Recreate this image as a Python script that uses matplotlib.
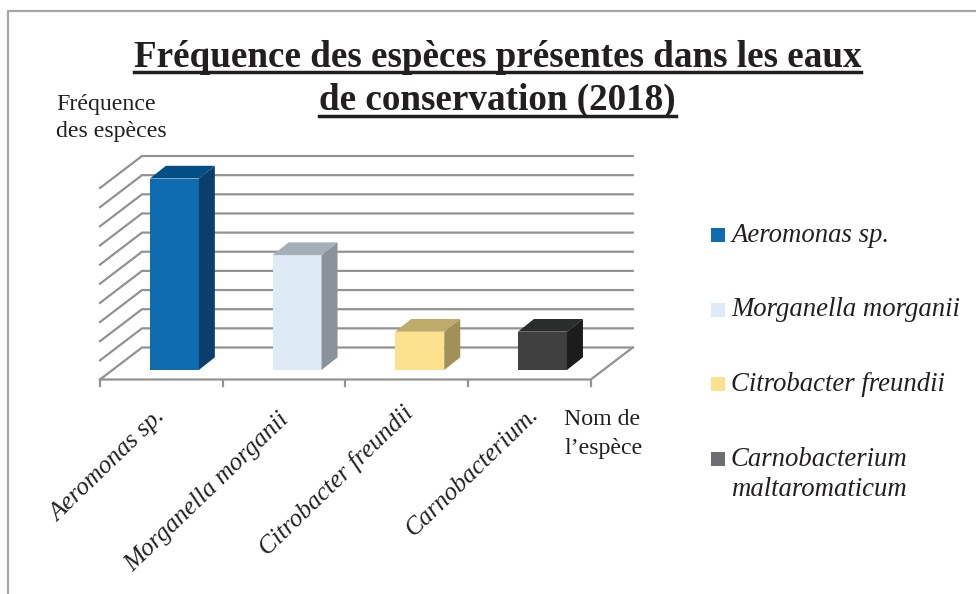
import matplotlib
matplotlib.use('Agg')
import matplotlib.pyplot as plt
from matplotlib.lines import Line2D
from matplotlib.patches import Rectangle

plt.rcParams['font.family'] = ['Liberation Serif', 'DejaVu Serif']

W, H = 976, 594

# (gridlines are one unit apart, no numbers printed)
especes = ['Aeromonas sp.', 'Morganella morganii', 'Citrobacter freundii', 'Carnobacterium.']
valeurs = [10, 6, 2, 2]
legende = ['Aeromonas sp.', 'Morganella morganii', 'Citrobacter freundii', 'Carnobacterium\nmaltaromaticum']
titre = ['Fréquence des espèces présentes dans les eaux', 'de conservation (2018)']

c_face = ['#0f6cb0', '#deeaf6', '#fde28d', '#404040']
c_top = ['#034f85', '#a5afb8', '#bfab6a', '#2b2d2d']
c_side = ['#0a3f6b', '#8a929b', '#a19159', '#1c1c1c']
c_leg = ['#0f6cb0', '#deeaf6', '#fde28d', '#6d6e71']
grille = '#929292'
encre = '#231f20'

# pixels per unit along each axis
px_x = 122.7
px_y = 19.15


def fx(px):
    return px / W


def fy(py):
    return 1 - py / H


fig = plt.figure(figsize=(W / 100, H / 100), dpi=100, facecolor='white')

# chart frame, cut off by the image on the right and bottom
fig.add_artist(Line2D([fx(8), fx(8), fx(W)], [fy(H), fy(11), fy(11)], color='#a6a6a6', lw=1.6))

# axes: x=-0.5 sits on the front left corner, y=0 on the foot of the bars
left, right, top, bottom = 90, 650, 145, 395
ax = fig.add_axes([fx(left), fy(bottom), (right - left) / W, (bottom - top) / H])
ax.set_xlim((left - 100) / px_x - 0.5, (right - 100) / px_x - 0.5)
ax.set_ylim((370 - bottom) / px_y, (370 - top) / px_y)
ax.axis('off')

y_front = -9.5 / px_y
wall_dx = 42 / px_x
wall_dy = 32 / px_y
x0, x1 = -0.5, len(especes) - 0.5
n_grid = max(valeurs)

# back wall and left wall
for k in range(n_grid + 1):
    ax.plot([x0, x0 + wall_dx, x1 + wall_dx],
            [y_front + k, y_front + k + wall_dy, y_front + k + wall_dy],
            color=grille, lw=1.6, zorder=1, solid_joinstyle='miter')
# floor
ax.plot([x0, x1, x1 + wall_dx], [y_front, y_front, y_front + wall_dy], color=grille, lw=1.6, zorder=1)
for i in range(len(especes) + 1):
    ax.plot([x0 + i, x0 + i], [y_front, y_front - 6 / px_y], color=grille, lw=1.6, zorder=1)

# bars, with their top and side faces
larg = 49 / px_x
decal = 13 / px_x
dx = 16 / px_x
dy = 12.7 / px_y
pos = [i + decal for i in range(len(especes))]
ax.bar(pos, valeurs, width=larg, color=c_face, zorder=3)
for p, v, ct, cs in zip(pos, valeurs, c_top, c_side):
    a, b = p - larg / 2, p + larg / 2
    ax.fill([a, b, b + dx, a + dx], [v, v, v + dy, v + dy], color=ct, lw=0, zorder=3)
    ax.fill([b, b + dx, b + dx, b], [0, dy, v + dy, v], color=cs, lw=0, zorder=3)

# title, each line with its underline
lignes = []
for t, y in zip(titre, [67, 110]):
    lignes.append(fig.text(fx(497.5), fy(y), t, ha='center', va='baseline', fontsize=26.7,
                           fontweight='bold', color=encre))
fig.canvas.draw()
rend = fig.canvas.get_renderer()
for t, y in zip(lignes, [71.5, 115.5]):
    bb = t.get_window_extent(rend)
    fig.add_artist(Line2D([bb.x0 / W, bb.x1 / W], [fy(y), fy(y)], color=encre, lw=2.5))

# axis captions
fig.text(fx(56), fy(110), 'Fréquence', fontsize=17.2, color=encre, va='baseline')
fig.text(fx(56), fy(137), 'des espèces', fontsize=17.2, color=encre, va='baseline')
fig.text(fx(564), fy(425), 'Nom de', fontsize=17.2, color=encre, va='baseline')
fig.text(fx(564), fy(454), 'l’espèce', fontsize=17.2, color=encre, va='baseline')

# slanted category labels
fins = [(162, 414), (286, 416), (410, 410), (535, 411)]
for nom, (ex, ey) in zip(especes, fins):
    fig.text(fx(ex), fy(ey), nom, rotation=44, rotation_mode='anchor', ha='right', va='center',
             fontsize=18.4, style='italic', color=encre)

# legend, the swatch of the two-line entry stays level with its first line
base_leg = [241.5, 316.5, 391, 465.5]
for nom, c, yb in zip(legende, c_leg, base_leg):
    fig.add_artist(Rectangle((fx(711), fy(yb)), 14 / W, 14 / H, transform=fig.transFigure,
                             facecolor=c, edgecolor='none'))
    for j, morceau in enumerate(nom.split('\n')):
        fig.text(fx(731), fy(yb + j * 31), morceau, fontsize=19.3, style='italic', color=encre,
                 va='baseline')

fig.savefig('out.png', dpi=100, facecolor='white')
